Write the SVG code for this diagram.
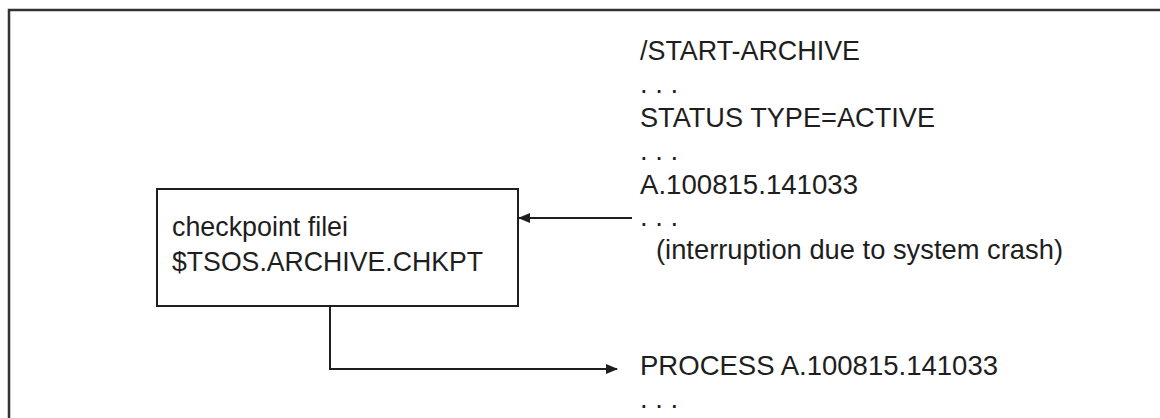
<svg xmlns="http://www.w3.org/2000/svg" width="1160" height="418" viewBox="0 0 1160 418">
<style>
text{font-family:"Liberation Sans",Arial,sans-serif;font-size:27.5px;fill:#1e1e1e}
.ln{fill:none;stroke:#1e1e1e;stroke-width:2}
</style>
<defs>
<marker id="ah" markerWidth="12" markerHeight="10" refX="11" refY="5" orient="auto" markerUnits="userSpaceOnUse">
<path d="M0,0 L12,5 L0,10 Z" fill="#1e1e1e"/>
</marker>
</defs>
<rect width="1160" height="418" fill="#fff"/>
<path d="M9,430 V10 H1170" fill="none" stroke="#333" stroke-width="2.5"/>
<g id="node-checkpoint">
<rect x="157" y="189" width="361" height="117" class="ln" fill="#fff"/>
<text x="172" y="236" textLength="176" lengthAdjust="spacingAndGlyphs">checkpoint filei</text>
<text x="172" y="271" textLength="311" lengthAdjust="spacingAndGlyphs">$TSOS.ARCHIVE.CHKPT</text>
</g>
<g id="node-commands">
<text x="640" y="60" textLength="220" lengthAdjust="spacingAndGlyphs">/START-ARCHIVE</text>
<text x="640" y="93">. . .</text>
<text x="640" y="127" textLength="295" lengthAdjust="spacingAndGlyphs">STATUS TYPE=ACTIVE</text>
<text x="640" y="160">. . .</text>
<text x="640" y="194" textLength="218" lengthAdjust="spacingAndGlyphs">A.100815.141033</text>
<text x="640" y="226">. . .</text>
<text x="656" y="259" textLength="407" lengthAdjust="spacingAndGlyphs">(interruption due to system crash)</text>
<text x="640" y="375" textLength="358" lengthAdjust="spacingAndGlyphs">PROCESS A.100815.141033</text>
<text x="640" y="408">. . .</text>
</g>
<g id="connectors">
<path d="M632,218 H519" class="ln" marker-end="url(#ah)"/>
<path d="M330,306 V369 H617" class="ln" marker-end="url(#ah)"/>
</g>
</svg>
